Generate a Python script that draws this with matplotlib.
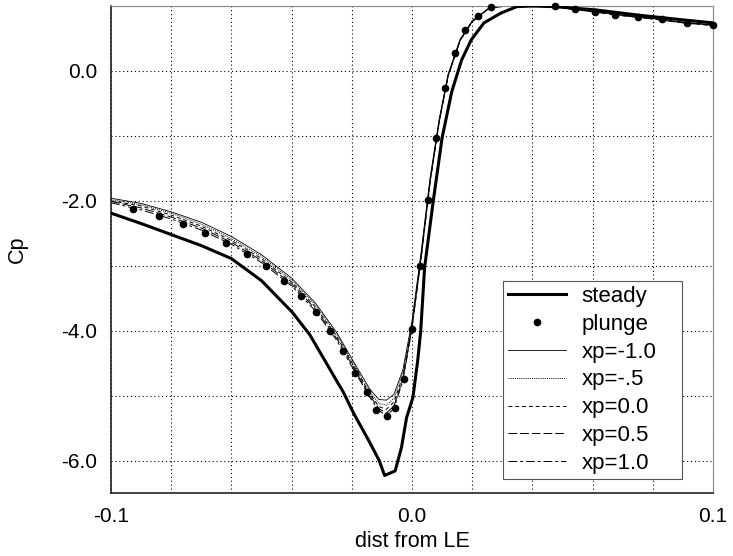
import matplotlib
matplotlib.use('Agg')
import matplotlib.pyplot as plt
from matplotlib.legend_handler import HandlerLine2D

plt.rcParams['font.family'] = ['Liberation Sans', 'DejaVu Sans']

# steady solution
steady_x = [-0.1, -0.09, -0.08, -0.07, -0.06, -0.05, -0.0397, -0.034, -0.0287, -0.0247, -0.023,
            -0.0193, -0.0144, -0.0109, -0.0091, -0.0056, -0.0035, -0.0018, 0.0003, 0.0019, 0.0029,
            0.0042, 0.0071, 0.0100, 0.0132, 0.0165, 0.0197, 0.0239, 0.0295, 0.0348, 0.04, 0.0475,
            0.061, 0.0751, 0.0893, 0.1]
steady_cp = [-2.19, -2.35, -2.52, -2.69, -2.89, -3.23, -3.72, -4.06, -4.48, -4.80, -4.93,
             -5.28, -5.69, -6.0, -6.23, -6.16, -5.80, -5.34, -5.03, -4.46, -4.0,
             -3.02, -1.99, -1.03, -0.32, 0.17, 0.48, 0.74, 0.89, 0.99, 1.0, 0.99,
             0.94, 0.86, 0.79, 0.74]

# plunge points
plunge_x = [-0.0927, -0.084, -0.076, -0.0687, -0.0617, -0.0548, -0.0486, -0.0424, -0.037, -0.032,
            -0.0273, -0.023, -0.019, -0.0151, -0.0119, -0.0084, -0.0056, -0.0028, 0.0, 0.0026,
            0.0052, 0.0081, 0.011, 0.0142, 0.0177, 0.022, 0.0262, 0.0475, 0.0541, 0.0607,
            0.0675, 0.0751, 0.0832, 0.0913, 0.1]
plunge_cp = [-2.13, -2.24, -2.36, -2.50, -2.65, -2.82, -3.01, -3.23, -3.46, -3.72,
             -4.0, -4.32, -4.65, -4.95, -5.22, -5.32, -5.19, -4.75, -3.97, -3.01,
             -1.98, -1.03, -0.26, 0.28, 0.63, 0.85, 0.99, 1.0, 0.96, 0.91,
             0.86, 0.83, 0.80, 0.74, 0.71]

# pitch axis cases
xp_x = [-0.1, -0.09, -0.08, -0.07, -0.06, -0.05, -0.04, -0.032, -0.025, -0.019, -0.014, -0.011,
        -0.0085, -0.006, -0.003, 0.0, 0.003, 0.006, 0.009, 0.012, 0.016, 0.02, 0.026, 0.033,
        0.04, 0.05, 0.06, 0.07, 0.08, 0.09, 0.1]
xp_m10 = [-1.96, -2.04, -2.17, -2.33, -2.55, -2.83, -3.19, -3.58, -4.03, -4.51, -4.90, -5.06,
          -5.07, -4.98, -4.60, -3.85, -2.80, -1.65, -0.75, -0.05, 0.49, 0.77, 0.98, 1.0,
          1.0, 0.98, 0.92, 0.86, 0.81, 0.75, 0.71]
xp_m05 = [-1.98, -2.06, -2.19, -2.36, -2.58, -2.86, -3.22, -3.61, -4.06, -4.54, -4.94, -5.12,
          -5.15, -5.04, -4.65, -3.89, -2.84, -1.68, -0.77, -0.06, 0.48, 0.77, 0.98, 1.0,
          1.0, 0.98, 0.92, 0.86, 0.81, 0.75, 0.71]
xp_00 = [-2.00, -2.08, -2.22, -2.39, -2.61, -2.89, -3.25, -3.64, -4.09, -4.57, -4.97, -5.17,
         -5.21, -5.10, -4.70, -3.93, -2.87, -1.70, -0.78, -0.07, 0.47, 0.76, 0.98, 1.0,
         1.0, 0.97, 0.91, 0.85, 0.80, 0.74, 0.70]
xp_05 = [-2.01, -2.11, -2.25, -2.42, -2.64, -2.92, -3.28, -3.67, -4.12, -4.60, -5.00, -5.20,
         -5.27, -5.16, -4.74, -3.95, -2.89, -1.71, -0.79, -0.08, 0.47, 0.76, 0.98, 1.0,
         1.0, 0.97, 0.91, 0.85, 0.80, 0.74, 0.70]
xp_10 = [-2.03, -2.14, -2.28, -2.45, -2.67, -2.95, -3.31, -3.70, -4.15, -4.63, -5.03, -5.23,
         -5.31, -5.20, -4.77, -3.97, -2.90, -1.72, -0.80, -0.08, 0.47, 0.76, 0.98, 1.0,
         1.0, 0.98, 0.92, 0.86, 0.81, 0.75, 0.71]

x_ticks = [-0.1, -0.08, -0.06, -0.04, -0.02, 0.0, 0.02, 0.04, 0.06, 0.08, 0.1]
x_labels = ['-0.1', '', '', '', '', '0.0', '', '', '', '', '0.1']
y_ticks = [-6.0, -5.0, -4.0, -3.0, -2.0, -1.0, 0.0, 1.0]
y_labels = ['-6.0', '', '-4.0', '', '-2.0', '', '0.0', '']


class RightDot(HandlerLine2D):
    def get_xdata(self, legend, xdescent, ydescent, width, height, fontsize):
        xdata, xm = super().get_xdata(legend, xdescent, ydescent, width, height, fontsize)
        return xdata, [-xdescent + width - 2]


def main():
    fig = plt.figure(figsize=(7.33, 5.56), dpi=100)
    ax = fig.add_axes([111 / 733, 63 / 556, 602 / 733, 487 / 556])

    ax.plot(steady_x, steady_cp, color='black', lw=2.2, label='steady', zorder=5)
    ax.plot(plunge_x, plunge_cp, ls='none', marker='o', ms=4.5, color='black',
            label='plunge', clip_on=False, zorder=6)
    ax.plot(xp_x, xp_m10, color='black', lw=0.6, ls='-', label='xp=-1.0')
    ax.plot(xp_x, xp_m05, color='black', lw=0.7, ls=(0, (1, 1.2)), label='xp=-.5')
    ax.plot(xp_x, xp_00, color='black', lw=0.7, ls=(0, (4, 3)), label='xp=0.0')
    ax.plot(xp_x, xp_05, color='black', lw=0.7, ls=(0, (9, 3)), label='xp=0.5')
    ax.plot(xp_x, xp_10, color='black', lw=0.7, ls=(0, (9, 3, 3, 3)), label='xp=1.0')

    ax.set_xlim(-0.1, 0.1)
    ax.set_ylim(-6.5, 1.0)
    ax.set_xticks(x_ticks)
    ax.set_xticklabels(x_labels)
    ax.set_yticks(y_ticks)
    ax.set_yticklabels(y_labels)
    ax.tick_params(length=0, labelsize=15, pad=10)
    ax.grid(True, color='black', ls=(0, (1, 2.5)), lw=0.8)

    for side in ['left', 'bottom']:
        ax.spines[side].set_color('#222222')
        ax.spines[side].set_linewidth(1.2)
    for side in ['top', 'right']:
        ax.spines[side].set_color('#888888')
        ax.spines[side].set_linewidth(0.8)

    ax.set_xlabel('dist from LE', fontsize=15.5, labelpad=4)
    ax.set_ylabel('Cp', fontsize=15.5, labelpad=24)

    h, l = ax.get_legend_handles_labels()
    leg = ax.legend(h, l, loc='lower right', bbox_to_anchor=(0.6512, 0.0287, 0.2973, 0.5),
                    mode='expand', borderaxespad=0,
                    fontsize=16, handlelength=2.6, handletextpad=0.72, labelspacing=0.31,
                    borderpad=0.22, fancybox=False, framealpha=1, edgecolor='#555555',
                    numpoints=1, handler_map={h[1]: RightDot(numpoints=1)})
    leg.get_frame().set_linewidth(0.8)

    fig.savefig('out.png', dpi=100)


if __name__ == '__main__':
    main()
